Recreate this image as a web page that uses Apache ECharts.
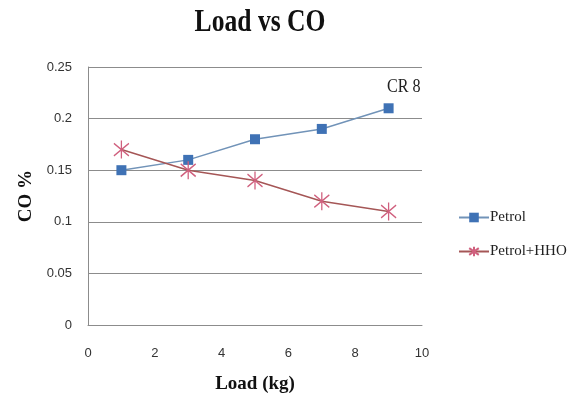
<!DOCTYPE html>
<html>
<head>
<meta charset="utf-8">
<script src="https://cdn.jsdelivr.net/npm/echarts@6/dist/echarts.min.js"></script>
<style>
  html, body { margin: 0; padding: 0; background: #fff; }
  #chart { width: 588px; height: 402px; }
</style>
</head>
<body>
<div id="chart"></div>
<script>
  // values
  const loads = [1, 3, 5, 7, 9];
  const petrol = [0.15, 0.16, 0.18, 0.19, 0.21];
  const petrolHHO = [0.17, 0.15, 0.14, 0.12, 0.11];
  const seriesNames = ['Petrol', 'Petrol+HHO'];

  const serif = '"Liberation Serif", "DejaVu Serif", serif';
  // asterisk marker: vertical bar plus an X
  const asterisk = 'path://M0,-10L0,10M-8,-7L8,7M-8,7L8,-7';

  const chart = echarts.init(document.getElementById('chart'));

  chart.setOption({
    animation: false,
    graphic: [
      {
        type: 'text',
        x: 260,
        y: 7,
        scaleX: 0.8,
        style: {
          text: 'Load vs CO',
          font: 'bold 32px ' + serif,
          fill: '#111',
          align: 'center',
          verticalAlign: 'top',
        },
      },
      {
        type: 'text',
        x: 387,
        y: 78,
        scaleX: 0.85,
        style: { text: 'CR 8', font: '19px ' + serif, fill: '#222', verticalAlign: 'top' },
      },
    ],
    legend: {
      orient: 'vertical',
      left: 453,
      top: 205,
      itemGap: 19,
      itemWidth: 30,
      itemHeight: 12,
      data: seriesNames,
      textStyle: { fontFamily: serif, fontSize: 15, color: '#222', padding: [0, 0, 0, -4] },
    },
    grid: { left: 88, right: 166, top: 67, bottom: 77 },
    xAxis: {
      type: 'value',
      min: 0,
      max: 10,
      interval: 2,
      name: 'Load (kg)',
      nameLocation: 'middle',
      nameGap: 50,
      nameTextStyle: { fontFamily: serif, fontSize: 19, fontWeight: 'bold', color: '#111' },
      axisLine: { lineStyle: { color: '#8c8c8c' } },
      axisTick: { show: false },
      splitLine: { show: false },
      axisLabel: { margin: 22, fontFamily: '"Liberation Sans", sans-serif', fontSize: 13, color: '#333' },
    },
    yAxis: {
      type: 'value',
      min: 0,
      max: 0.25,
      interval: 0.05,
      name: 'CO %',
      nameLocation: 'middle',
      nameGap: 50,
      nameTextStyle: { fontFamily: serif, fontSize: 19, fontWeight: 'bold', color: '#111' },
      axisLine: { show: true, lineStyle: { color: '#8c8c8c' } },
      axisTick: { show: false },
      splitLine: { lineStyle: { color: '#8c8c8c', width: 1.2 } },
      axisLabel: { margin: 16, fontFamily: '"Liberation Sans", sans-serif', fontSize: 13, color: '#333' },
    },
    series: [
      {
        name: seriesNames[0],
        type: 'line',
        data: loads.map((x, i) => [x, petrol[i]]),
        symbol: 'rect',
        symbolSize: 10,
        itemStyle: { color: '#3f72b5' },
        lineStyle: { color: '#7193b8', width: 1.5 },
      },
      {
        name: seriesNames[1],
        type: 'line',
        data: loads.map((x, i) => [x, petrolHHO[i]]),
        symbol: asterisk,
        symbolSize: [15, 18],
        itemStyle: { color: '#d0607e', borderColor: '#d0607e', borderWidth: 1.4 },
        lineStyle: { color: '#a55656', width: 1.5 },
      },
    ],
  });
</script>
</body>
</html>
